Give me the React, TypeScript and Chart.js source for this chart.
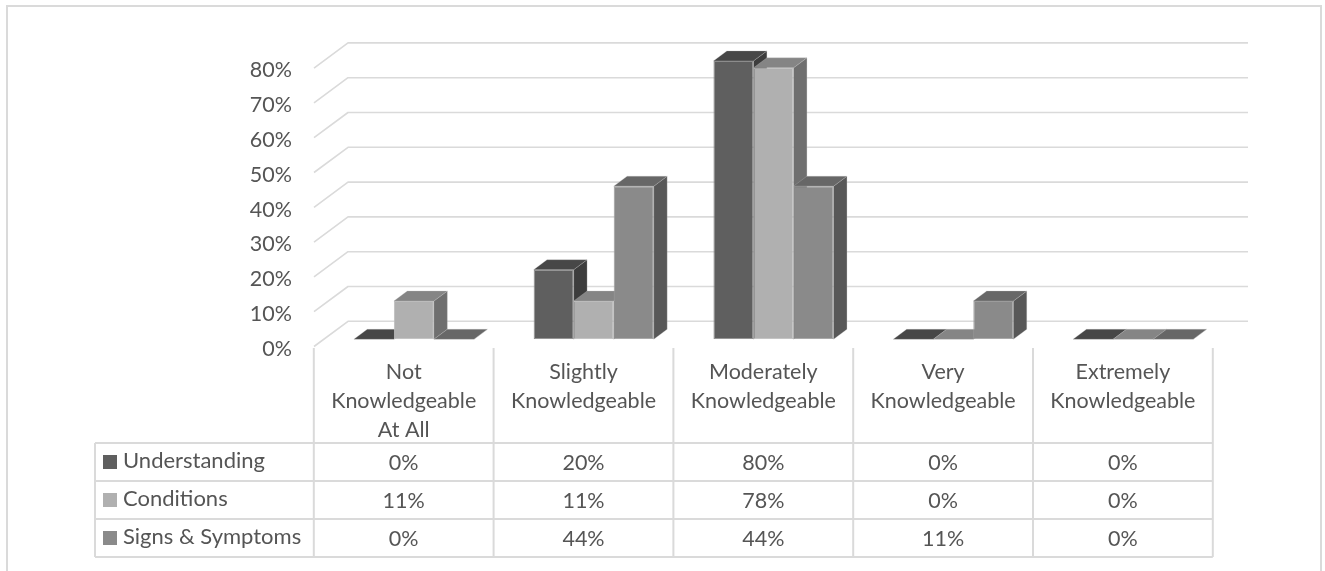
import React, { useEffect, useRef } from "react";
import { Chart, registerables } from "chart.js";

Chart.register(...registerables);

const categoryLines = [
  ["Not", "Knowledgeable", "At All"],
  ["Slightly", "Knowledgeable"],
  ["Moderately", "Knowledgeable"],
  ["Very", "Knowledgeable"],
  ["Extremely", "Knowledgeable"],
];
const categories = categoryLines.map((l) => l.join(" "));
const seriesNames = ["Understanding", "Conditions", "Signs & Symptoms"];
const understanding = [0, 20, 80, 0, 0];
const conditions = [11, 11, 78, 0, 0];
const signsSymptoms = [0, 44, 44, 11, 0];
const frontColors = ["#5f5f5f", "#b0b0b0", "#8a8a8a"];
const edgeColors = ["#8c8c8c", "#bcbcbc", "#9c9c9c"];
const topColors = ["#474747", "#858585", "#676767"];
const sideColors = ["#3d3d3d", "#6f6f6f", "#585858"];

const GRID = "#dadada";
const TEXT = "#555555";
const FONT = "Lato";
const FONT_SIZE = 21.5;
const LEGEND_FONT_SIZE = 22;

// Receding depth of a bar and of the chart floor, in pixels.
const BAR_DEPTH = { dx: 13.4, dy: 10 };
const FLOOR = { frontX: 314, backX: 348, rightX: 1248, frontDrop: 7.2, backRise: 18 };
const TABLE_ROWS = [443, 481, 519, 557];
const TABLE_LEFT = 95;
const TABLE_TOP = 348;
const COLUMN_SHIFT = 10.2;

const poly = (ctx: CanvasRenderingContext2D, pts: number[][], fill: string) => {
  ctx.fillStyle = fill;
  ctx.strokeStyle = "rgba(190,190,190,0.35)";
  ctx.lineWidth = 0.8;
  ctx.beginPath();
  pts.forEach(([x, y], i) => (i ? ctx.lineTo(x, y) : ctx.moveTo(x, y)));
  ctx.closePath();
  ctx.fill();
  ctx.stroke();
};

const frame3d = {
  id: "frame3d",
  // Back wall gridlines and the top and side faces of each bar sit under the front faces.
  beforeDatasetsDraw(chart: any) {
    const { ctx, scales } = chart;
    const y = scales.y;
    ctx.save();
    ctx.strokeStyle = GRID;
    ctx.lineWidth = 1.6;
    ctx.lineJoin = "round";
    y.ticks.forEach((t: any) => {
      const py = y.getPixelForValue(t.value);
      ctx.beginPath();
      ctx.moveTo(FLOOR.frontX, py + FLOOR.frontDrop);
      ctx.lineTo(FLOOR.backX, py - FLOOR.backRise);
      ctx.lineTo(FLOOR.rightX, py - FLOOR.backRise);
      ctx.stroke();
    });
    categories.forEach((_, c) => {
      seriesNames.forEach((_, s) => {
        const bar = chart.getDatasetMeta(s).data[c];
        const half = bar.width / 2;
        const l = bar.x - half;
        const r = bar.x + half;
        const { dx, dy } = BAR_DEPTH;
        poly(ctx, [[r, bar.y], [r + dx, bar.y - dy], [r + dx, bar.base - dy], [r, bar.base]], sideColors[s]);
        poly(ctx, [[l, bar.y], [l + dx, bar.y - dy], [r + dx, bar.y - dy], [r, bar.y]], topColors[s]);
      });
    });
    ctx.restore();
  },
  // Outer frame and the data table underneath the plot.
  afterDraw(chart: any) {
    const { ctx, scales } = chart;
    const x = scales.x;
    const colW = x.getPixelForValue(1) - x.getPixelForValue(0);
    const edge = (i: number) => x.getPixelForValue(i) - colW / 2 - COLUMN_SHIFT;
    const centre = (i: number) => x.getPixelForValue(i) - COLUMN_SHIFT;
    const bottom = TABLE_ROWS[TABLE_ROWS.length - 1];
    ctx.save();
    ctx.strokeStyle = GRID;
    ctx.lineWidth = 2;
    ctx.beginPath();
    ctx.moveTo(7, 571);
    ctx.lineTo(7, 6);
    ctx.lineTo(1321, 6);
    ctx.lineTo(1321, 571);
    ctx.stroke();

    ctx.beginPath();
    categories.forEach((_, i) => {
      ctx.moveTo(edge(i), TABLE_TOP);
      ctx.lineTo(edge(i), bottom);
    });
    ctx.moveTo(edge(categories.length), TABLE_TOP);
    ctx.lineTo(edge(categories.length), bottom);
    ctx.moveTo(TABLE_LEFT, TABLE_ROWS[0]);
    ctx.lineTo(TABLE_LEFT, bottom);
    TABLE_ROWS.forEach((r) => {
      ctx.moveTo(TABLE_LEFT, r);
      ctx.lineTo(edge(categories.length), r);
    });
    ctx.stroke();

    ctx.font = `${FONT_SIZE}px ${FONT}`;
    ctx.fillStyle = TEXT;
    ctx.textBaseline = "middle";
    ctx.textAlign = "center";
    categoryLines.forEach((lines, i) => {
      lines.forEach((line, n) => ctx.fillText(line, centre(i), 372 + n * 29));
    });
    [understanding, conditions, signsSymptoms].forEach((vals, s) => {
      const cy = (TABLE_ROWS[s] + TABLE_ROWS[s + 1]) / 2;
      vals.forEach((v, i) => ctx.fillText(`${v}%`, centre(i), cy + 1));
      ctx.fillStyle = frontColors[s];
      ctx.fillRect(103, cy - 7, 14, 14);
      ctx.fillStyle = TEXT;
      ctx.textAlign = "left";
      ctx.font = `${LEGEND_FONT_SIZE}px ${FONT}`;
      ctx.fillText(seriesNames[s], 123, cy - 1);
      ctx.font = `${FONT_SIZE}px ${FONT}`;
      ctx.textAlign = "center";
    });
    ctx.restore();
  },
};

export default function App() {
  const ref = useRef<HTMLCanvasElement>(null);
  useEffect(() => {
    const mk = (label: string, data: number[], i: number) => ({
      label,
      data,
      backgroundColor: frontColors[i],
      borderColor: edgeColors[i],
      borderWidth: (c: any) => (c.raw > 0 ? 1 : 0),
      borderSkipped: false,
      categoryPercentage: 0.668,
      barPercentage: 1,
    });
    const chart = new Chart(ref.current!, {
      type: "bar",
      data: {
        labels: categories,
        datasets: [
          mk(seriesNames[0], understanding, 0),
          mk(seriesNames[1], conditions, 1),
          mk(seriesNames[2], signsSymptoms, 2),
        ],
      },
      options: {
        animation: false,
        responsive: false,
        layout: { padding: { left: 0, right: 1325 - 1223, top: 60.9, bottom: 571 - 339.3 } },
        plugins: { legend: { display: false }, title: { display: false }, tooltip: { enabled: false } },
        scales: {
          x: { display: false },
          y: {
            min: 0,
            max: 80,
            afterFit: (s: any) => {
              s.width = 324;
            },
            grid: { display: false },
            border: { display: false },
            ticks: {
              stepSize: 10,
              padding: 24,
              labelOffset: 9.5,
              color: TEXT,
              font: { family: FONT, size: FONT_SIZE },
              callback: (v: any) => `${v}%`,
            },
          },
        },
      },
      plugins: [frame3d],
    } as any);
    return () => chart.destroy();
  }, []);
  return (
    <div style={{ position: "absolute", left: 0, top: 0, background: "#fff" }}>
      <canvas ref={ref} width={1325} height={571} style={{ display: "block" }} />
    </div>
  );
}
